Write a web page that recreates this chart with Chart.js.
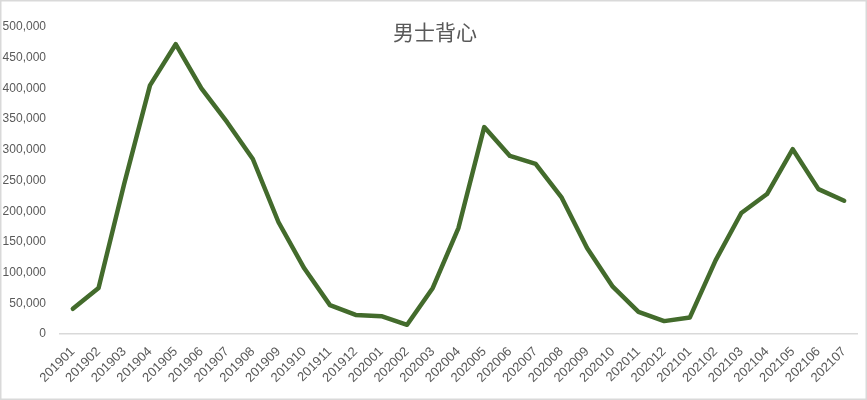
<!DOCTYPE html>
<html>
<head>
<meta charset="utf-8">
<script src="https://cdn.jsdelivr.net/npm/chart.js@4"></script>
<style>
  body { margin: 0; background: #fff; }
</style>
</head>
<body>
<canvas id="chart" width="867" height="400"></canvas>
<script>
// data
var months = ['201901', '201902', '201903', '201904', '201905', '201906', '201907', '201908',
    '201909', '201910', '201911', '201912', '202001', '202002', '202003', '202004',
    '202005', '202006', '202007', '202008', '202009', '202010', '202011', '202012',
    '202101', '202102', '202103', '202104', '202105', '202106', '202107'];
var sales = [41000, 75000, 245000, 405000, 472000, 400000, 345000, 285000,
    182000, 107000, 47000, 31000, 29000, 15000, 75000, 173000,
    337000, 290000, 277000, 223000, 140000, 77000, 36000, 21000,
    27000, 120000, 197000, 228000, 301000, 236000, 217000];
var titleText = '男士背心';

// frame and title drawn like the Excel chart (title sits over the plot area)
var frame = {
    id: 'frame',
    beforeDraw: function (chart) {
        var ctx = chart.ctx;
        ctx.save();
        ctx.fillStyle = '#ffffff';
        ctx.fillRect(0, 0, chart.width, chart.height);
        ctx.strokeStyle = '#d9d9d9';
        ctx.lineWidth = 1.5;
        ctx.strokeRect(0.75, 0.75, chart.width - 1.5, chart.height - 1.5);
        ctx.restore();
    },
    afterDraw: function (chart) {
        var ctx = chart.ctx;
        ctx.save();
        ctx.fillStyle = '#595959';
        ctx.font = '21px "Noto Sans CJK SC"';
        ctx.textAlign = 'center';
        ctx.textBaseline = 'middle';
        ctx.fillText(titleText, 435, 32);
        ctx.restore();
    }
};

new Chart(document.getElementById('chart'), {
    type: 'line',
    data: {
        labels: months,
        datasets: [{
            label: titleText,
            data: sales,
            borderColor: '#436B2C',
            borderWidth: 4.5,
            pointRadius: 0,
            tension: 0,
            borderJoinStyle: 'round',
            borderCapStyle: 'round'
        }]
    },
    options: {
        responsive: false,
        animation: false,
        layout: {
            padding: { left: 0, right: 10, top: 27, bottom: 0 }
        },
        plugins: {
            legend: { display: false },
            tooltip: { enabled: false }
        },
        scales: {
            x: {
                offset: true,
                grid: { display: false, drawTicks: false },
                border: { color: '#d9d9d9', width: 1.5 },
                ticks: {
                    color: '#595959',
                    font: { family: 'Liberation Sans', size: 13 },
                    minRotation: 45,
                    maxRotation: 45,
                    autoSkip: false,
                    padding: 10
                },
                afterFit: function (scale) { scale.height = 66; }
            },
            y: {
                min: 0,
                max: 500000,
                grid: { display: false, drawTicks: false },
                border: { display: false },
                ticks: {
                    stepSize: 50000,
                    color: '#595959',
                    font: { family: 'Liberation Sans', size: 12 },
                    padding: 14,
                    callback: function (value) {
                        return value.toLocaleString('en-US');
                    }
                },
                afterFit: function (scale) { scale.width = 60; }
            }
        }
    },
    plugins: [frame]
});
</script>
</body>
</html>
